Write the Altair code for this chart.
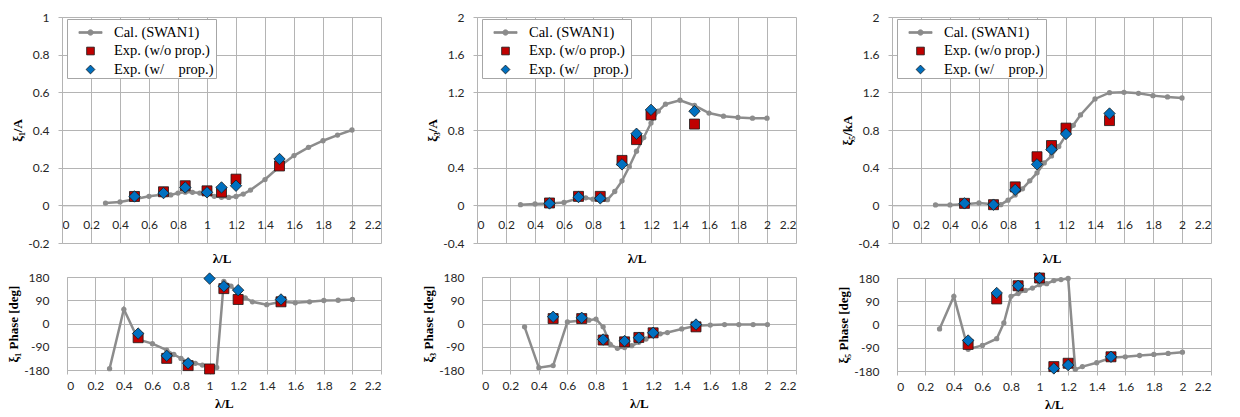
import altair as alt
import pandas as pd

# wavelength / ship length ratios
lam_cal = [0.3, 0.4, 0.5, 0.6, 0.7, 0.75, 0.8, 0.85, 0.9, 0.95, 1.0, 1.05,
           1.1, 1.15, 1.2, 1.25, 1.3, 1.4, 1.5, 1.6, 1.7, 1.8, 1.9, 2.0]
lam_exp = [0.5, 0.7, 0.85, 1.0, 1.1, 1.2, 1.5]

# surge amplitude xi1/A
surge_cal = [0.012, 0.018, 0.032, 0.048, 0.058, 0.055, 0.065, 0.070, 0.069, 0.065, 0.062, 0.048,
             0.043, 0.042, 0.047, 0.060, 0.081, 0.137, 0.206, 0.264, 0.308, 0.343, 0.373, 0.400]
surge_wo = [0.047, 0.072, 0.104, 0.077, 0.070, 0.139, 0.209]
surge_w = [0.047, 0.065, 0.095, 0.069, 0.095, 0.104, 0.246]

# heave amplitude xi3/A
heave_cal = [0.007, 0.014, 0.020, 0.030, 0.075, 0.080, 0.065, 0.055, 0.060, 0.147, 0.260, 0.410,
             0.575, 0.720, 0.874, 1.000, 1.074, 1.116, 1.060, 0.980, 0.947, 0.933, 0.926, 0.926]
heave_wo = [0.025, 0.095, 0.095, 0.477, 0.698, 0.960, 0.863]
heave_w = [0.020, 0.088, 0.074, 0.435, 0.760, 1.014, 1.000]

# pitch amplitude xi5/kA
pitch_cal = [0.004, 0.004, 0.012, 0.025, 0.012, 0.007, 0.055, 0.110, 0.175, 0.260, 0.345, 0.450,
             0.525, 0.625, 0.745, 0.850, 0.960, 1.130, 1.196, 1.200, 1.190, 1.165, 1.151, 1.140]
pitch_wo = [0.021, 0.007, 0.196, 0.516, 0.635, 0.820, 0.900]
pitch_w = [0.021, 0.007, 0.165, 0.435, 0.593, 0.758, 0.975]

# phases [deg]
surge_ph_cal = [-175, 55, -62, -78, -103, -120, -135, -148, -154, -161, -168, -170,
                163, 145, 115, 99, 84, 73, 84, 80, 84, 89, 90, 93]
surge_ph_wo = [-55, -135, -163, -176, 135, 93, 84]
surge_ph_w = [-39, -125, -154, 174, 144, 129, 93]

heave_ph_cal = [-13, -171, -163, 6, 12, 13, 17, -13, -81, -96, -93, -86,
                -73, -60, -45, -40, -35, -21, -9, -6, -4, -4, -4, -4]
heave_ph_wo = [19, 19, -64, -71, -54, -36, -13]
heave_ph_w = [26, 22, -62, -68, -55, -36, -4]

pitch_ph_cal = [-17, 109, -96, -81, -55, 6, 109, 120, 132, 141, 154, 158,
                170, 174, 178, -174, -163, -148, -129, -125, -120, -116, -112, -107]
pitch_ph_wo = [-77, 99, 150, 180, -163, -150, -125]
pitch_ph_w = [-62, 122, 150, 180, -170, -157, -125]

x_ticks = [0, 0.2, 0.4, 0.6, 0.8, 1, 1.2, 1.4, 1.6, 1.8, 2, 2.2]
amp1_ticks = [-0.2, 0, 0.2, 0.4, 0.6, 0.8, 1]
amp2_ticks = [-0.4, 0, 0.4, 0.8, 1.2, 1.6, 2]
phase_ticks = [-180, -90, 0, 90, 180]

SERIES = ["Cal. (SWAN1)", "Exp. (w/o prop.)", "Exp. (w/" + "\u00a0" * 4 + "prop.)"]
GRAY = "#8c8c8c"
GRID = "#b4b4b4"
FILLS = [GRAY, "#c00000", "#0070c0"]
STROKES = [GRAY, "#1a1a1a", "#1a1a1a"]
# symbol paths in unit coordinates: line with dot, square, diamond
SHAPES = [
    "M-1.05,-0.08H1.05V0.08H-1.05Z M-0.25,0A0.25,0.25,0,1,1,0.25,0A0.25,0.25,0,1,1,-0.25,0Z",
    "M-0.35,-0.35H0.35V0.35H-0.35Z",
    "M0,-0.4L0.4,0L0,0.4L-0.4,0Z",
]
LABEL_EXPR = "'' + datum.value"

PLOT_W = 319
TOP_H = 226
BOT_H = 93
BOT_INSET = 4.7  # phase panels start a little to the right of the amplitude panels


def make_legend():
    return alt.Legend(
        title=None, orient="none", legendX=5, legendY=2,
        fillColor="white", strokeColor="#a6a6a6", padding=2,
        symbolSize=484, symbolOffset=10, symbolStrokeWidth=0.8,
        labelOffset=12, labelFont="Liberation Serif", labelFontSize=14.5,
        labelColor="black", rowPadding=0.5, labelLimit=300,
        labelExpr="datum.label + '\u00a0\u00a0'",
    )


def panel(cal, wo, w, ydom, yvals, ytitle, top):
    cal_df = pd.DataFrame({"lam": lam_cal, "val": cal})
    exp_df = pd.DataFrame({
        "lam": lam_exp + lam_exp,
        "val": wo + w,
        "series": [SERIES[1]] * len(wo) + [SERIES[2]] * len(w),
    })
    if top:
        height = TOP_H
        zero_off = height * (0 - ydom[0]) / (ydom[1] - ydom[0])
        xscale = alt.Scale(domain=[0, 2.2], nice=False, zero=False)
        xaxis = alt.Axis(values=x_ticks, labelExpr=LABEL_EXPR, ticks=False,
                         offset=-zero_off, labelPadding=14, title="λ/L",
                         titleY=zero_off + 15, titleBaseline="middle")
        yaxis = alt.Axis(values=yvals, labelExpr=LABEL_EXPR, tickSize=4,
                         labelPadding=9, title=ytitle, titlePadding=3)
    else:
        height = BOT_H
        xscale = alt.Scale(domain=[0, 2.2], range=[BOT_INSET, PLOT_W], nice=False, zero=False)
        xaxis = alt.Axis(values=x_ticks, labelExpr=LABEL_EXPR, tickSize=4,
                         labelPadding=6, title="λ/L", titlePadding=6)
        yaxis = alt.Axis(values=yvals, labelExpr=LABEL_EXPR, ticks=False, domain=False,
                         labelPadding=13, title=ytitle, titlePadding=3)
    x = alt.X("lam:Q", scale=xscale, axis=xaxis)
    y = alt.Y("val:Q", scale=alt.Scale(domain=ydom, nice=False, zero=False), axis=yaxis)

    line = alt.Chart(cal_df).mark_line(color=GRAY, strokeWidth=2.5).encode(x=x, y=y)
    dots = alt.Chart(cal_df).mark_circle(color=GRAY, size=28, opacity=1).encode(x=x, y=y)
    leg = make_legend() if top else None
    pts = alt.Chart(exp_df).mark_point(filled=True, size=816, strokeWidth=0.8, opacity=1).encode(
        x=x, y=y,
        shape=alt.Shape("series:N", scale=alt.Scale(domain=SERIES, range=SHAPES), legend=leg),
        fill=alt.Fill("series:N", scale=alt.Scale(domain=SERIES, range=FILLS), legend=leg),
        stroke=alt.Stroke("series:N", scale=alt.Scale(domain=SERIES, range=STROKES), legend=leg),
    )
    return alt.layer(line, dots, pts).properties(width=PLOT_W, height=height)


def column(top, bottom):
    return (
        alt.vconcat(top, bottom, spacing=4)
        .resolve_scale(shape="independent", fill="independent", stroke="independent")
        .resolve_legend(shape="independent", fill="independent", stroke="independent")
    )


col1 = column(
    panel(surge_cal, surge_wo, surge_w, [-0.2, 1], amp1_ticks, "ξ₁/A", True),
    panel(surge_ph_cal, surge_ph_wo, surge_ph_w, [-180, 180], phase_ticks, "ξ₁ Phase [deg]", False),
)
col2 = column(
    panel(heave_cal, heave_wo, heave_w, [-0.4, 2], amp2_ticks, "ξ₃/A", True),
    panel(heave_ph_cal, heave_ph_wo, heave_ph_w, [-180, 180], phase_ticks, "ξ₃ Phase [deg]", False),
)
col3 = column(
    panel(pitch_cal, pitch_wo, pitch_w, [-0.4, 2], amp2_ticks, "ξ₅/kA", True),
    panel(pitch_ph_cal, pitch_ph_wo, pitch_ph_w, [-180, 180], phase_ticks, "ξ₅ Phase [deg]", False),
)

chart = (
    alt.hconcat(col1, col2, col3, spacing=40)
    .resolve_scale(shape="independent", fill="independent", stroke="independent")
    .resolve_legend(shape="independent", fill="independent", stroke="independent")
    .properties(padding={"left": 7, "top": 10, "right": 0, "bottom": 0}, background="white")
    .configure_view(stroke="transparent")
    .configure_axis(
        grid=True, gridColor=GRID, gridWidth=1,
        domainColor=GRID, tickColor=GRID,
        labelFont="Lato", labelFontSize=12, labelColor="#262626",
        titleFont="Liberation Serif", titleFontSize=13, titleFontWeight="bold",
        titleColor="black",
    )
)

chart.save("out.html", embed_options={"renderer": "svg", "actions": False})
